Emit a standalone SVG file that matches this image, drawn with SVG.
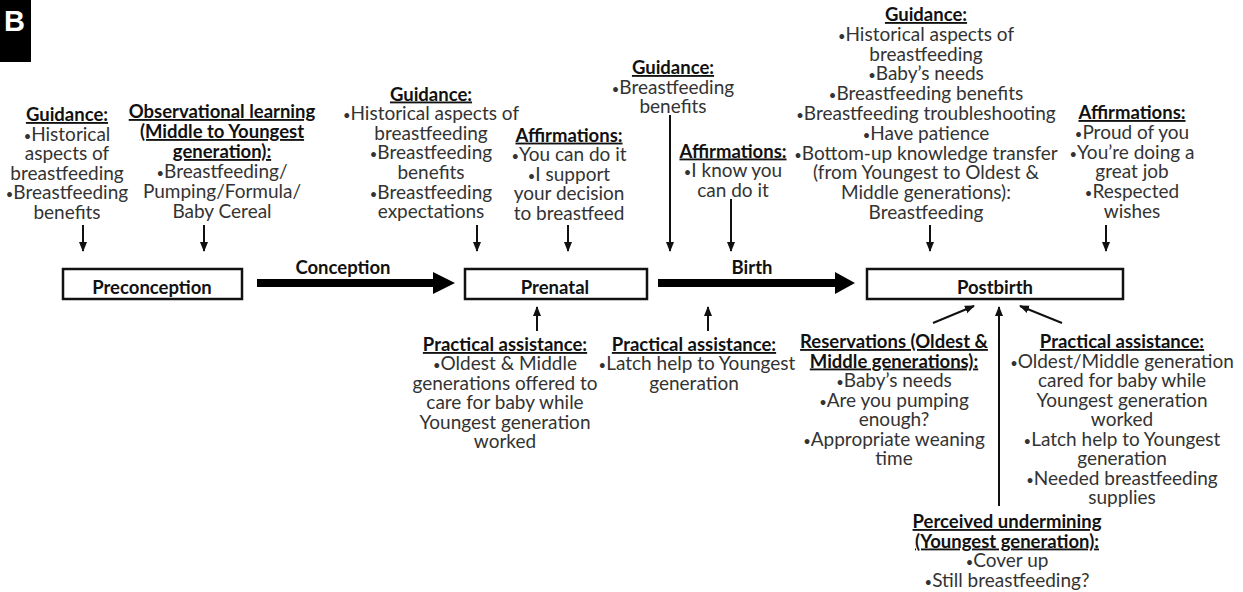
<svg xmlns="http://www.w3.org/2000/svg" width="1243" height="592" viewBox="0 0 1243 592">
<style>
text{font-family:Lato,"Liberation Sans",sans-serif;font-size:19px;text-anchor:middle;fill:#333}
.h{font-weight:bold;fill:#111;text-decoration:underline;font-size:18.5px}
.lbl{font-weight:bold;fill:#111;font-size:18.5px}
.b{font-size:13px}
.box{fill:#fff;stroke:#111;stroke-width:2.5}
.ar{stroke:#111;stroke-width:2;fill:none;marker-end:url(#ah)}
.thick{fill:#000}
</style>
<defs>
<marker id="ah" markerUnits="userSpaceOnUse" markerWidth="10" markerHeight="10" viewBox="0 0 10 10" refX="9" refY="5" orient="auto">
<path d="M0,1 L10,5 L0,9 z" fill="#111"/>
</marker>
</defs>
<rect x="0" y="0" width="31" height="62" fill="#000"/>
<text x="4" y="31" style="font-family:'Liberation Sans',sans-serif;font-size:29px;font-weight:bold;fill:#fff;text-anchor:start">B</text>

<g id="node-preconception">
<rect class="box" x="63" y="269" width="179" height="30"/>
<text class="lbl" x="152" y="294">Preconception</text>
</g>
<g id="node-prenatal">
<rect class="box" x="465" y="269" width="182" height="30"/>
<text class="lbl" x="555" y="294">Prenatal</text>
</g>
<g id="node-postbirth">
<rect class="box" x="867" y="269" width="256" height="30"/>
<text class="lbl" x="995" y="294">Postbirth</text>
</g>

<g id="label-conception">
<polygon class="thick" points="257,279 433,279 433,272 455,283 433,294 433,287 257,287"/>
<text class="lbl" x="343" y="274">Conception</text>
</g>
<g id="label-birth">
<polygon class="thick" points="658,279 835,279 835,272 855,283 835,294 835,287 658,287"/>
<text class="lbl" x="752" y="274">Birth</text>
</g>

<g id="n-guidance-pre">
<text class="h" x="67" y="121">Guidance:</text>
<text x="67" y="140.6"><tspan class="b">•</tspan>Historical</text>
<text x="67" y="160.2">aspects of</text>
<text x="67" y="179.8">breastfeeding</text>
<text x="67" y="199.4"><tspan class="b">•</tspan>Breastfeeding</text>
<text x="67" y="219">benefits</text>
</g>
<g id="n-observational">
<text class="h" x="222" y="118">Observational learning</text>
<text class="h" x="222" y="138">(Middle to Youngest</text>
<text class="h" x="222" y="158">generation):</text>
<text x="222" y="178"><tspan class="b">•</tspan>Breastfeeding/</text>
<text x="222" y="198">Pumping/Formula/</text>
<text x="222" y="218">Baby Cereal</text>
</g>
<g id="n-guidance-prenatal">
<text class="h" x="431" y="100.5">Guidance:</text>
<text x="431" y="120"><tspan class="b">•</tspan>Historical aspects of</text>
<text x="431" y="139.7">breastfeeding</text>
<text x="431" y="159.3"><tspan class="b">•</tspan>Breastfeeding</text>
<text x="431" y="178.9">benefits</text>
<text x="431" y="198.5"><tspan class="b">•</tspan>Breastfeeding</text>
<text x="431" y="218">expectations</text>
</g>
<g id="n-affirm-prenatal">
<text class="h" x="569" y="141.6">Affirmations:</text>
<text x="569" y="161.2"><tspan class="b">•</tspan>You can do it</text>
<text x="569" y="180.8"><tspan class="b">•</tspan>I support</text>
<text x="569" y="200.4">your decision</text>
<text x="569" y="220">to breastfeed</text>
</g>
<g id="n-guidance-birth">
<text class="h" x="673" y="74">Guidance:</text>
<text x="673" y="93.6"><tspan class="b">•</tspan>Breastfeeding</text>
<text x="673" y="113.2">benefits</text>
</g>
<g id="n-affirm-birth">
<text class="h" x="733" y="157.5">Affirmations:</text>
<text x="733" y="177"><tspan class="b">•</tspan>I know you</text>
<text x="733" y="196.6">can do it</text>
</g>
<g id="n-guidance-post">
<text class="h" x="926" y="21">Guidance:</text>
<text x="926" y="40.8"><tspan class="b">•</tspan>Historical aspects of</text>
<text x="926" y="60.6">breastfeeding</text>
<text x="926" y="80.4"><tspan class="b">•</tspan>Baby’s needs</text>
<text x="926" y="100.2"><tspan class="b">•</tspan>Breastfeeding benefits</text>
<text x="926" y="120"><tspan class="b">•</tspan>Breastfeeding troubleshooting</text>
<text x="926" y="139.8"><tspan class="b">•</tspan>Have patience</text>
<text x="926" y="159.6"><tspan class="b">•</tspan>Bottom-up knowledge transfer</text>
<text x="926" y="179.4">(from Youngest to Oldest &amp;</text>
<text x="926" y="199.2">Middle generations):</text>
<text x="926" y="219">Breastfeeding</text>
</g>
<g id="n-affirm-post">
<text class="h" x="1132" y="119">Affirmations:</text>
<text x="1132" y="138.8"><tspan class="b">•</tspan>Proud of you</text>
<text x="1132" y="158.6"><tspan class="b">•</tspan>You’re doing a</text>
<text x="1132" y="178.4">great job</text>
<text x="1132" y="198.2"><tspan class="b">•</tspan>Respected</text>
<text x="1132" y="218">wishes</text>
</g>
<g id="n-practical-prenatal">
<text class="h" x="505" y="351">Practical  assistance:</text>
<text x="505" y="370.4"><tspan class="b">•</tspan>Oldest &amp; Middle</text>
<text x="505" y="389.8">generations offered to</text>
<text x="505" y="409.2">care for baby while</text>
<text x="505" y="428.6">Youngest generation</text>
<text x="505" y="448">worked</text>
</g>
<g id="n-practical-birth">
<text class="h" x="694" y="351">Practical  assistance:</text>
<text x="697" y="370.4"><tspan class="b">•</tspan>Latch help to Youngest</text>
<text x="694" y="389.8">generation</text>
</g>
<g id="n-reservations">
<text class="h" x="894" y="348">Reservations (Oldest &amp;</text>
<text class="h" x="894" y="367.5">Middle generations):</text>
<text x="894" y="387"><tspan class="b">•</tspan>Baby’s needs</text>
<text x="894" y="406.5"><tspan class="b">•</tspan>Are you pumping</text>
<text x="894" y="426">enough?</text>
<text x="894" y="445.5"><tspan class="b">•</tspan>Appropriate weaning</text>
<text x="894" y="465">time</text>
</g>
<g id="n-practical-post">
<text class="h" x="1122" y="348">Practical  assistance:</text>
<text x="1122" y="367.5"><tspan class="b">•</tspan>Oldest/Middle generation</text>
<text x="1122" y="387">cared for baby while</text>
<text x="1122" y="406.5">Youngest generation</text>
<text x="1122" y="426">worked</text>
<text x="1122" y="445.5"><tspan class="b">•</tspan>Latch help to Youngest</text>
<text x="1122" y="465">generation</text>
<text x="1122" y="484.5"><tspan class="b">•</tspan>Needed breastfeeding</text>
<text x="1122" y="504">supplies</text>
</g>
<g id="n-undermining">
<text class="h" x="1007" y="528">Perceived undermining</text>
<text class="h" x="1007" y="547.5">(Youngest generation):</text>
<text x="1007" y="567"><tspan class="b">•</tspan>Cover up</text>
<text x="1007" y="586.5"><tspan class="b">•</tspan>Still breastfeeding?</text>
</g>

<g id="connectors">
<line class="ar" x1="83" y1="225" x2="83" y2="251"/>
<line class="ar" x1="204" y1="225" x2="204" y2="251"/>
<line class="ar" x1="477" y1="225" x2="477" y2="251"/>
<line class="ar" x1="568" y1="225" x2="568" y2="251"/>
<line class="ar" x1="670" y1="115" x2="670" y2="251"/>
<line class="ar" x1="731" y1="199" x2="731" y2="251"/>
<line class="ar" x1="930" y1="225" x2="930" y2="251"/>
<line class="ar" x1="1106" y1="225" x2="1106" y2="251"/>
<line class="ar" x1="537" y1="331" x2="537" y2="307"/>
<line class="ar" x1="708" y1="331" x2="708" y2="307"/>
<line class="ar" x1="999" y1="506" x2="999" y2="307"/>
<line class="ar" x1="933" y1="323" x2="974" y2="306"/>
<line class="ar" x1="1062" y1="323" x2="1020" y2="306"/>
</g>
</svg>
